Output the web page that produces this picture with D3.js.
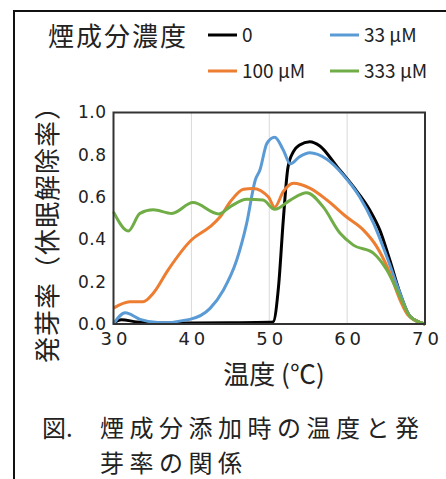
<!DOCTYPE html>
<html>
<head>
<meta charset="utf-8">
<script src="https://cdn.jsdelivr.net/npm/d3@7"></script>
<style>
  body { margin: 0; background: #fff; }
  text { font-family: "Noto Sans CJK JP", "DejaVu Sans", sans-serif; fill: #222; }
  .tick text { font-family: "DejaVu Sans", sans-serif; }
</style>
</head>
<body>
<div id="chart"></div>
<script>
// data: temperature (°C) and germination rate
var temp0 = [30, 31, 33, 36, 40, 45, 50, 50.5, 51.2, 51.8, 52.4, 53.1, 53.9, 55.2, 56.5, 58.7, 60.8, 62.9, 64.2, 65.5, 66.8, 68.1, 70];
var rate0 = [0.005, 0.02, 0.01, 0.005, 0.005, 0.006, 0.008, 0.01, 0.18, 0.49, 0.74, 0.815, 0.846, 0.862, 0.842, 0.744, 0.649, 0.539, 0.444, 0.30, 0.145, 0.035, 0];

var temp33 = [30, 31.5, 33.4, 36, 39.8, 42.4, 44.1, 45.8, 47.1, 48.2, 48.8, 49.7, 50.7, 51.8, 52.7, 53.9, 55.2, 57.4, 59.5, 61.6, 63.4, 65.1, 66.8, 68.1, 70];
var rate33 = [0.0, 0.053, 0.022, 0.006, 0.022, 0.074, 0.16, 0.30, 0.476, 0.68, 0.728, 0.854, 0.883, 0.823, 0.757, 0.791, 0.81, 0.779, 0.705, 0.602, 0.476, 0.318, 0.145, 0.035, 0];

var temp100 = [30, 32.1, 33.8, 35.1, 37, 40, 42.4, 43.7, 45, 46.7, 47.9, 49.9, 50.7, 51.8, 53.1, 55.2, 57.4, 59.9, 62.1, 63.8, 65.5, 66.8, 67.8, 70];
var rate100 = [0.075, 0.105, 0.105, 0.145, 0.255, 0.397, 0.46, 0.507, 0.578, 0.637, 0.641, 0.60, 0.552, 0.626, 0.665, 0.642, 0.586, 0.507, 0.444, 0.366, 0.24, 0.113, 0.043, 0];

var temp333 = [30, 31.9, 33.4, 35.1, 37.5, 40.2, 43.5, 45, 47.1, 49.2, 50.7, 52.7, 54.8, 56.9, 59.1, 60.8, 63.4, 65.1, 66.8, 68.1, 70];
var rate333 = [0.53, 0.44, 0.523, 0.54, 0.523, 0.574, 0.52, 0.555, 0.59, 0.586, 0.542, 0.586, 0.621, 0.555, 0.429, 0.373, 0.334, 0.255, 0.129, 0.035, 0];

var seriesNames = ["0", "33 μM", "100 μM", "333 μM"];
var seriesColors = ["#000000", "#5b9bd5", "#ed7d31", "#70ad47"];
var xTicks = [30, 40, 50, 60, 70];
var yTicks = [0, 0.2, 0.4, 0.6, 0.8, 1.0];
var gridTicks = [40, 50, 60];

var series = [
  { name: seriesNames[0], color: seriesColors[0], t: temp0, v: rate0 },
  { name: seriesNames[1], color: seriesColors[1], t: temp33, v: rate33 },
  { name: seriesNames[2], color: seriesColors[2], t: temp100, v: rate100 },
  { name: seriesNames[3], color: seriesColors[3], t: temp333, v: rate333 }
];

var svgWidth = 446, svgHeight = 479;
var plot = { left: 113.5, top: 112.5, right: 425, bottom: 324 };

var svg = d3.select("#chart").append("svg")
  .attr("width", svgWidth)
  .attr("height", svgHeight);

// outer frame (top + left edges)
svg.append("path")
  .attr("d", "M14,479 L14,11 L446,11")
  .attr("fill", "none")
  .attr("stroke", "#111")
  .attr("stroke-width", 2);

var x = d3.scaleLinear().domain([30, 70]).range([plot.left, plot.right]);
var y = d3.scaleLinear().domain([0, 1]).range([plot.bottom, plot.top]);

// vertical gridlines
svg.append("g").selectAll("line").data(gridTicks).enter().append("line")
  .attr("x1", d => x(d)).attr("x2", d => x(d))
  .attr("y1", plot.top).attr("y2", plot.bottom)
  .attr("stroke", "#d9d9d9").attr("stroke-width", 1);

// axes
var yAxis = svg.append("g")
  .attr("transform", `translate(${plot.left},0)`)
  .call(d3.axisLeft(y).tickValues(yTicks).tickFormat(d3.format(".1f")).tickSize(0).tickPadding(7));
yAxis.select(".domain").remove();
yAxis.selectAll("text").attr("font-size", 17).attr("fill", "#222").attr("letter-spacing", 0.5);

var xAxis = svg.append("g")
  .attr("transform", `translate(0,${plot.bottom})`)
  .call(d3.axisBottom(x).tickValues(xTicks).tickSize(0).tickPadding(8));
xAxis.select(".domain").remove();
xAxis.selectAll("text").attr("font-size", 18).attr("fill", "#222")
  .attr("letter-spacing", 4).attr("dx", 2);

// lines
var line = d3.line()
  .x(d => x(d[0]))
  .y(d => y(d[1]))
  .curve(d3.curveMonotoneX);

series.forEach(function(s) {
  svg.append("path")
    .datum(s.t.map((t, i) => [t, s.v[i]]))
    .attr("d", line)
    .attr("fill", "none")
    .attr("stroke", s.color)
    .attr("stroke-width", 3)
    .attr("stroke-linejoin", "round");
});

// plot border
svg.append("rect")
  .attr("x", plot.left).attr("y", plot.top)
  .attr("width", plot.right - plot.left).attr("height", plot.bottom - plot.top)
  .attr("fill", "none").attr("stroke", "#333").attr("stroke-width", 2);

// axis titles
svg.append("text")
  .attr("x", 274).attr("y", 384)
  .attr("text-anchor", "middle")
  .attr("font-size", 26)
  .text("温度 (℃)");

svg.append("text")
  .attr("transform", "translate(57,228) rotate(-90)")
  .attr("text-anchor", "middle")
  .attr("font-size", 26)
  .attr("letter-spacing", 1)
  .text("発芽率（休眠解除率）");

// legend
svg.append("text")
  .attr("x", 48).attr("y", 46)
  .attr("font-size", 26)
  .attr("letter-spacing", 2)
  .text("煙成分濃度");

var legendPos = [[208, 35], [330, 35], [208, 71], [330, 71]];
series.forEach(function(s, i) {
  var p = legendPos[i];
  svg.append("line")
    .attr("x1", p[0]).attr("x2", p[0] + 29)
    .attr("y1", p[1]).attr("y2", p[1])
    .attr("stroke", s.color).attr("stroke-width", 3);
  svg.append("text")
    .attr("x", p[0] + 34).attr("y", p[1] + 7)
    .attr("font-size", 19)
    .text(s.name);
});

// caption
svg.append("text")
  .attr("x", 42).attr("y", 437)
  .attr("font-size", 24)
  .text("図.");
svg.append("text")
  .attr("x", 100).attr("y", 437)
  .attr("font-size", 24)
  .attr("letter-spacing", 5.5)
  .text("煙成分添加時の温度と発");
svg.append("text")
  .attr("x", 100).attr("y", 472)
  .attr("font-size", 24)
  .attr("letter-spacing", 5.5)
  .text("芽率の関係");
</script>
</body>
</html>
